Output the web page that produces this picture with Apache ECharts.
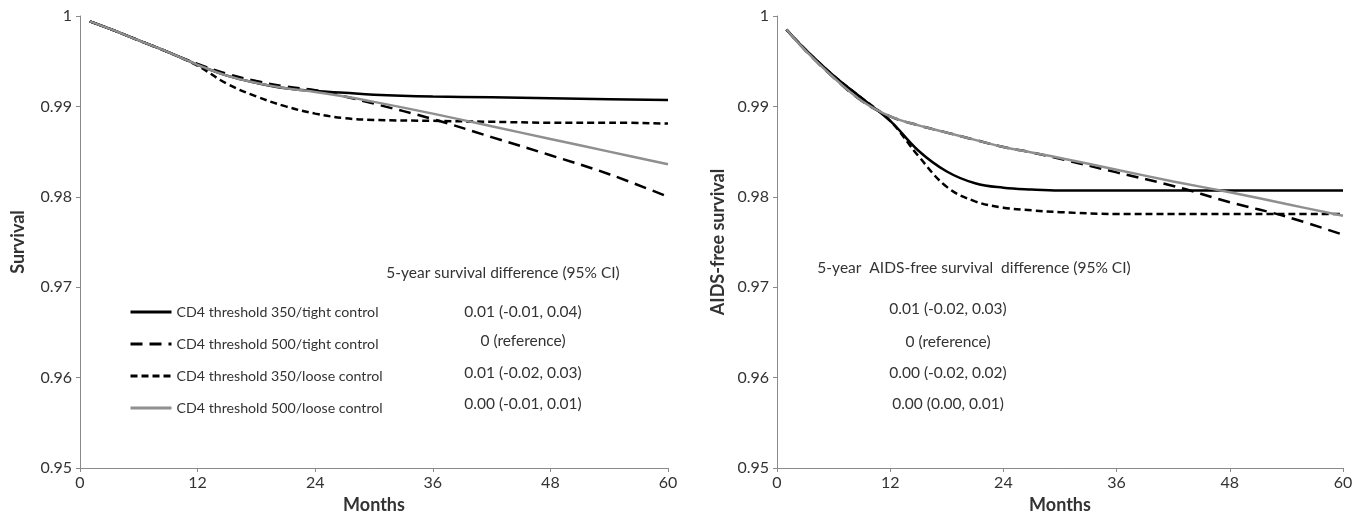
<!DOCTYPE html>
<html><head><meta charset="utf-8">
<script src="https://cdn.jsdelivr.net/npm/echarts@6/dist/echarts.min.js"></script>
<style>html,body{margin:0;padding:0;background:#fff}#c{width:1363px;height:519px}</style>
</head><body><div id="c"></div>
<script>
const months = [1,3,6,9,12,15,18,21,24,27,30,36,42,48,54,60];
const seriesNames = ['CD4 threshold 350/tight control','CD4 threshold 500/tight control','CD4 threshold 350/loose control','CD4 threshold 500/loose control'];

// Left panel: overall survival
const survival350Tight = [0.9994,0.9986,0.9973,0.9960,0.9946,0.9934,0.9926,0.9920,0.9917,0.9915,0.9913,0.9911,0.9910,0.9909,0.9908,0.9907];
const survival500Tight = [0.9994,0.9986,0.9973,0.9960,0.9947,0.9936,0.9928,0.9922,0.9918,0.9911,0.9903,0.9886,0.9866,0.9846,0.9825,0.9800];
const survival350Loose = [0.9994,0.9986,0.9973,0.9960,0.9945,0.9925,0.9911,0.9900,0.9892,0.9887,0.9885,0.9884,0.9883,0.9882,0.9882,0.9881];
const survival500Loose = [0.9994,0.9986,0.9973,0.9960,0.9946,0.9934,0.9926,0.9920,0.9916,0.9911,0.9905,0.9892,0.9878,0.9864,0.9850,0.9836];

// Right panel: AIDS-free survival
const aidsFree350Tight = [0.9985,0.9963,0.9934,0.9909,0.9884,0.9851,0.9828,0.9815,0.9810,0.9808,0.9807,0.9807,0.9807,0.9807,0.9807,0.9807];
const aidsFree500Tight = [0.9985,0.9962,0.9932,0.9906,0.9889,0.9879,0.9871,0.9863,0.9855,0.9849,0.9842,0.9827,0.9812,0.9794,0.9778,0.9758];
const aidsFree350Loose = [0.9985,0.9963,0.9934,0.9909,0.9884,0.9845,0.9811,0.9795,0.9788,0.9785,0.9783,0.9781,0.9781,0.9781,0.9781,0.9781];
const aidsFree500Loose = [0.9985,0.9962,0.9932,0.9906,0.9889,0.9879,0.9871,0.9863,0.9855,0.9849,0.9843,0.9830,0.9817,0.9805,0.9792,0.9779];

const leftTitle = '5-year survival difference (95% CI)';
const leftDiffs = ['0.01 (-0.01, 0.04)','0 (reference)','0.01 (-0.02, 0.03)','0.00 (-0.01, 0.01)'];
const rightTitle = '5-year  AIDS-free survival  difference (95% CI)';
const rightDiffs = ['0.01 (-0.02, 0.03)','0 (reference)','0.00 (-0.02, 0.02)','0.00 (0.00, 0.01)'];

const FONT = 'Lato, "Open Sans", sans-serif';
const styles = [
  {color:'#000', width:2.5, type:'solid'},
  {color:'#000', width:2.5, type:[12,7]},
  {color:'#000', width:2.5, type:[7,4]},
  {color:'#8f8f8f', width:2.5, type:'solid'}
];
const zip = v => months.map((m,i)=>[m,v[i]]);

function xAxis(idx){
  return {type:'value', gridIndex:idx, min:0, max:60, interval:12,
    name:'Months', nameLocation:'middle', nameGap:23,
    nameTextStyle:{fontFamily:FONT, fontSize:18, fontWeight:'bold', color:'#333'},
    axisLine:{show:true, lineStyle:{color:'#8a8a8a', width:1}},
    axisTick:{show:true, length:4, lineStyle:{color:'#8a8a8a'}},
    axisLabel:{margin:7, fontFamily:FONT, fontSize:16, color:'#333'},
    splitLine:{show:false}};
}
function yAxis(idx, name, gap){
  return {type:'value', gridIndex:idx, min:0.95, max:1, interval:0.01,
    name:name, nameLocation:'middle', nameGap:gap, nameRotate:90,
    nameTextStyle:{fontFamily:FONT, fontSize:18, fontWeight:'bold', color:'#333'},
    axisLine:{show:true, lineStyle:{color:'#8a8a8a', width:1}},
    axisTick:{show:true, length:4, lineStyle:{color:'#8a8a8a'}},
    axisLabel:{margin:8, fontFamily:FONT, fontSize:16, color:'#333',
      formatter: v => String(+v.toFixed(2))},
    splitLine:{show:false}};
}

const leftData = [survival350Tight, survival500Tight, survival350Loose, survival500Loose];
const rightData = [aidsFree350Tight, aidsFree500Tight, aidsFree350Loose, aidsFree500Loose];
const series = [];
[leftData, rightData].forEach((set, g) => {
  set.forEach((vals, i) => {
    series.push({name:seriesNames[i], type:'line', xAxisIndex:g, yAxisIndex:g,
      data:zip(vals), smooth:0.4, symbol:'none', silent:true,
      lineStyle:styles[i], itemStyle:{color:styles[i].color}});
  });
});

const txt = (text, x, y) => ({type:'text', x:x, y:y, silent:true,
  style:{text:text, align:'center', verticalAlign:'middle', fontFamily:FONT, fontSize:15.5, fill:'#333'}});
const graphics = [];
graphics.push(txt(leftTitle, 503, 273));
const leftRows = [312, 341, 373, 404];
leftDiffs.forEach((t,i)=>graphics.push(txt(t, 523, leftRows[i])));
graphics.push(txt(rightTitle, 974, 268));
const rightRows = [309, 342, 373, 404];
rightDiffs.forEach((t,i)=>graphics.push(txt(t, 948, rightRows[i])));

const chart = echarts.init(document.getElementById('c'), null, {renderer:'canvas'});
chart.setOption({
  animation:false,
  backgroundColor:'#fff',
  grid:[
    {left:80, top:16, width:588, height:452},
    {left:777, top:16, width:566, height:452}
  ],
  xAxis:[xAxis(0), xAxis(1)],
  yAxis:[yAxis(0,'Survival',53), yAxis(1,'AIDS-free survival',50)],
  legend:{data:seriesNames, orient:'vertical', left:129, top:305, padding:0,
    itemWidth:41, itemHeight:14, itemGap:18, selectedMode:false,
    itemStyle:{opacity:0},
    lineStyle:{width:3},
    textStyle:{fontFamily:FONT, fontSize:14.2, color:'#333'}},
  series:series,
  graphic:graphics
});
</script></body></html>
